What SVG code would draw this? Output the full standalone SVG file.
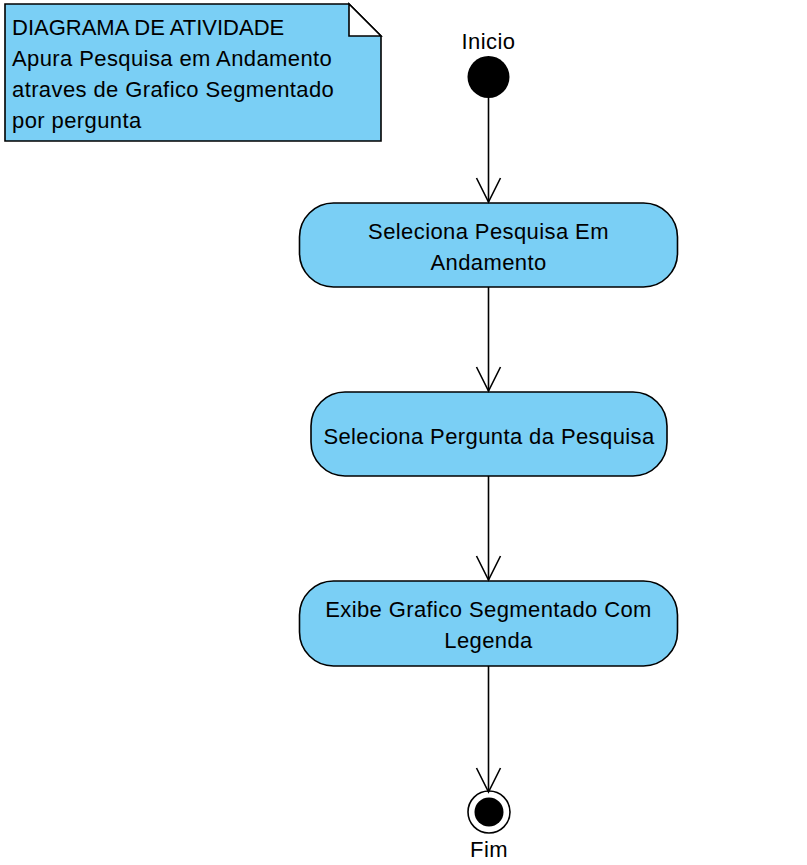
<svg xmlns="http://www.w3.org/2000/svg" width="807" height="865" viewBox="0 0 807 865">
<defs>
<style>
.t{font-family:"Liberation Sans",Arial,sans-serif;font-size:22px;fill:#000;letter-spacing:0.4px}
.c{text-anchor:middle}
.box{fill:#7ACFF5;stroke:#000;stroke-width:1.6}
.edge{fill:none;stroke:#000;stroke-width:1.6}
</style>
<marker id="arr" markerUnits="userSpaceOnUse" markerWidth="28" markerHeight="28" viewBox="-26 -14 28 28" refX="0" refY="0" orient="auto">
<path d="M-24,-12 L0,0 L-24,12" fill="none" stroke="#000" stroke-width="1.6"/>
</marker>
</defs>
<rect width="807" height="865" fill="#fff"/>
<g id="note">
<path class="box" d="M5,4 L349,4 L381,36 L381,141 L5,141 Z"/>
<path d="M349,4 L349,36 L381,36 Z" fill="#fff" stroke="#000" stroke-width="1.6" stroke-linejoin="miter"/>
<text class="t" x="12" y="35" style="letter-spacing:0px">DIAGRAMA DE ATIVIDADE</text>
<text class="t" x="12" y="66">Apura Pesquisa em Andamento</text>
<text class="t" x="12" y="97">atraves de Grafico Segmentado</text>
<text class="t" x="12" y="128">por pergunta</text>
</g>
<g id="inicio">
<circle cx="488.5" cy="77" r="21" fill="#000"/>
<text class="t c" x="488.5" y="49">Inicio</text>
</g>
<g id="act1">
<rect class="box" x="299.5" y="203" width="378" height="84" rx="34" ry="34"/>
<text class="t c" x="488.5" y="238.5">Seleciona Pesquisa Em</text>
<text class="t c" x="488.5" y="270">Andamento</text>
</g>
<g id="act2">
<rect class="box" x="311" y="392" width="356" height="84" rx="34" ry="34"/>
<text class="t c" x="489" y="443.5">Seleciona Pergunta da Pesquisa</text>
</g>
<g id="act3">
<rect class="box" x="299.5" y="581" width="378" height="85" rx="34" ry="34"/>
<text class="t c" x="488.5" y="617">Exibe Grafico Segmentado Com</text>
<text class="t c" x="488.5" y="648">Legenda</text>
</g>
<g id="fim">
<circle cx="489" cy="812" r="21" fill="#fff" stroke="#000" stroke-width="1.6"/>
<circle cx="489" cy="812" r="14.5" fill="#000"/>
<text class="t c" x="489" y="857">Fim</text>
</g>
<g id="connectors">
<path class="edge" d="M488.5,98 L488.5,202" marker-end="url(#arr)"/>
<path class="edge" d="M488.5,287 L488.5,391" marker-end="url(#arr)"/>
<path class="edge" d="M488.5,476 L488.5,580" marker-end="url(#arr)"/>
<path class="edge" d="M488.5,666 L488.5,792" marker-end="url(#arr)"/>
</g>
</svg>
